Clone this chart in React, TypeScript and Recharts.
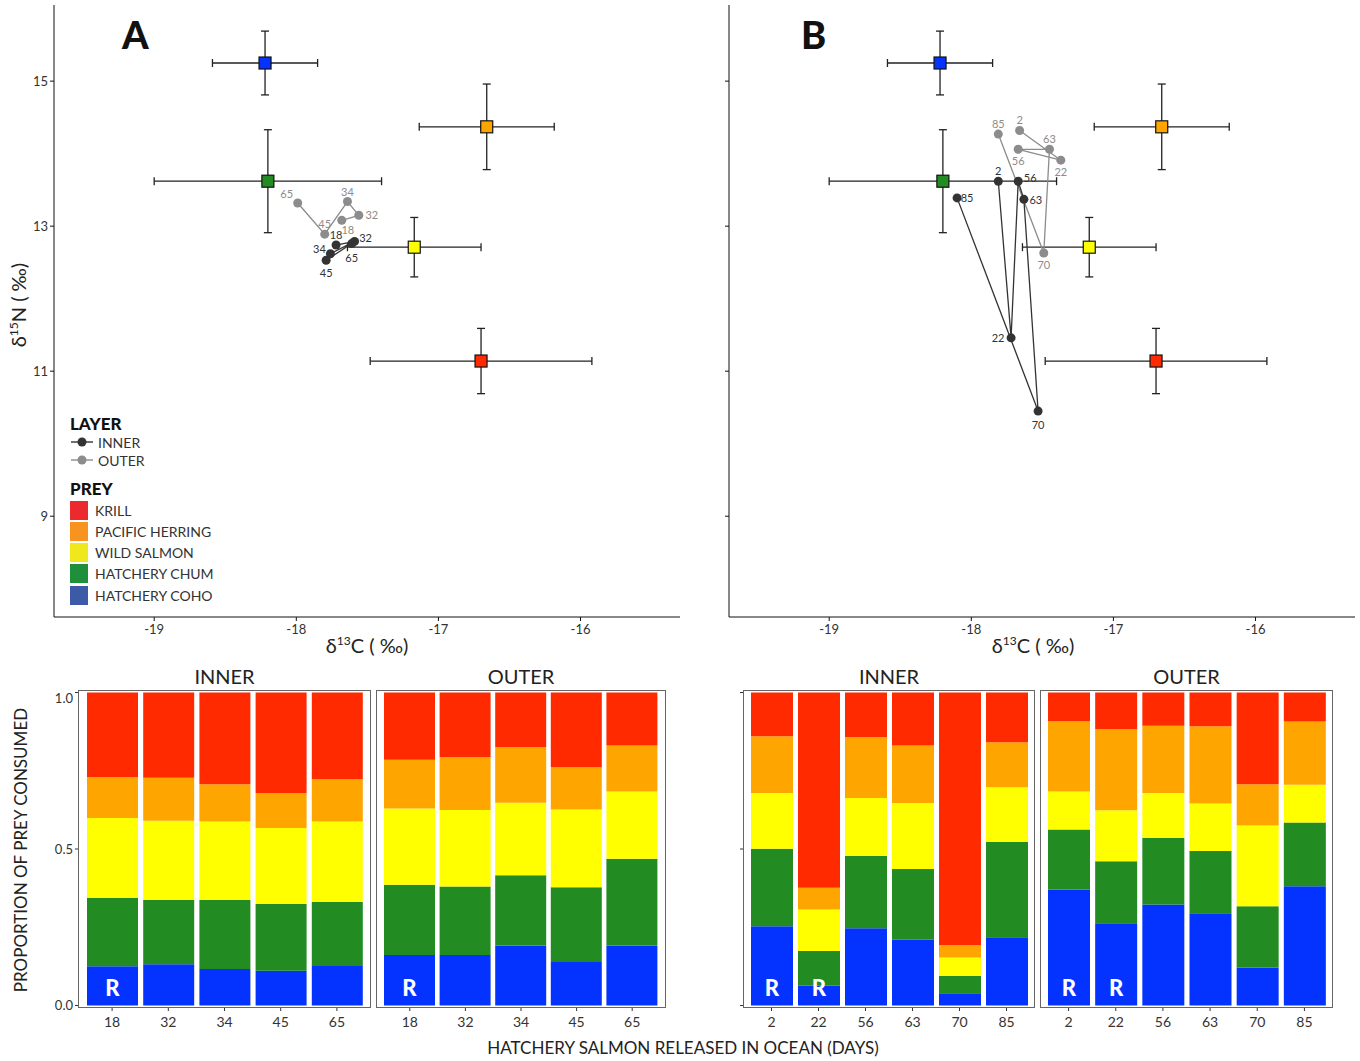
import React from 'react';
import { ScatterChart, Scatter, XAxis, YAxis, ErrorBar, BarChart, Bar, LabelList } from 'recharts';

// prey sources (mean ± sd)
const PREY = ['KRILL', 'PACIFIC HERRING', 'WILD SALMON', 'HATCHERY CHUM', 'HATCHERY COHO'];
const PREY_D13C = [-16.70, -16.66, -17.17, -18.20, -18.22];
const PREY_D15N = [11.14, 14.37, 12.71, 13.62, 15.25];
const PREY_SD_C = [0.78, 0.475, 0.47, 0.8, 0.37];
const PREY_SD_N = [0.45, 0.59, 0.41, 0.71, 0.44];

// consumers, panel A
const DAYS_A = [18, 32, 34, 45, 65];
const A_INNER_C = [-17.72, -17.59, -17.76, -17.79, -17.61];
const A_INNER_N = [12.74, 12.79, 12.62, 12.53, 12.76];
const A_OUTER_C = [-17.68, -17.56, -17.64, -17.80, -17.99];
const A_OUTER_N = [13.08, 13.15, 13.34, 12.89, 13.32];

// consumers, panel B
const DAYS_B = [2, 22, 56, 63, 70, 85];
const B_INNER_C = [-17.81, -17.72, -17.67, -17.63, -17.53, -18.10];
const B_INNER_N = [13.62, 11.46, 13.62, 13.37, 10.45, 13.39];
const B_OUTER_C = [-17.66, -17.37, -17.67, -17.45, -17.49, -17.81];
const B_OUTER_N = [14.32, 13.91, 14.06, 14.06, 12.63, 14.27];

// mixing model proportions
const A_INNER_COHO = [0.125, 0.132, 0.117, 0.111, 0.126];
const A_INNER_CHUM = [0.219, 0.206, 0.221, 0.213, 0.205];
const A_INNER_WILD = [0.255, 0.252, 0.250, 0.243, 0.257];
const A_INNER_HERR = [0.131, 0.138, 0.119, 0.112, 0.135];
const A_INNER_KRILL = [0.270, 0.272, 0.293, 0.321, 0.277];

const A_OUTER_COHO = [0.161, 0.161, 0.192, 0.139, 0.192];
const A_OUTER_CHUM = [0.225, 0.219, 0.224, 0.239, 0.277];
const A_OUTER_WILD = [0.243, 0.245, 0.232, 0.248, 0.215];
const A_OUTER_HERR = [0.156, 0.169, 0.178, 0.135, 0.147];
const A_OUTER_KRILL = [0.215, 0.206, 0.174, 0.239, 0.169];

const B_INNER_COHO = [0.253, 0.063, 0.247, 0.210, 0.039, 0.218];
const B_INNER_CHUM = [0.248, 0.111, 0.231, 0.226, 0.055, 0.304];
const B_INNER_WILD = [0.178, 0.133, 0.185, 0.211, 0.059, 0.175];
const B_INNER_HERR = [0.181, 0.069, 0.195, 0.184, 0.040, 0.144];
const B_INNER_KRILL = [0.140, 0.624, 0.142, 0.169, 0.807, 0.159];

const B_OUTER_COHO = [0.371, 0.263, 0.323, 0.295, 0.121, 0.381];
const B_OUTER_CHUM = [0.191, 0.198, 0.213, 0.199, 0.196, 0.204];
const B_OUTER_WILD = [0.122, 0.163, 0.143, 0.151, 0.258, 0.120];
const B_OUTER_HERR = [0.224, 0.259, 0.215, 0.247, 0.132, 0.202];
const B_OUTER_KRILL = [0.092, 0.117, 0.106, 0.108, 0.293, 0.093];

const R_A_INNER = [18];
const R_A_OUTER = [18];
const R_B_INNER = [2, 22];
const R_B_OUTER = [2, 22];

const FONT = 'Lato, "Open Sans", sans-serif';
const MARK = ['#ff2a00', '#ffa500', '#ffff00', '#228b22', '#0433ff'];
const KEY = ['#ec2a2d', '#f7931e', '#efe81d', '#1f8f3c', '#3d5aa9'];
const DARK = '#333333';
const GREY = '#8c8c8c';
const X_DOMAIN = [-19.705, -15.3];

// label offsets [dx, dy] for the day numbers
const A_INNER_LAB = [[0, -11], [11, -4], [-11, -5], [0, 12], [0, 14]];
const A_OUTER_LAB = [[6, 9], [13, -1], [0, -10], [0, -11], [-11, -9]];
const B_INNER_LAB = [[0, -11], [-13, 0], [12, -4], [12, 0], [0, 13], [10, 0]];
const B_OUTER_LAB = [[0, -11], [0, 11], [0, 11], [0, -11], [0, 12], [0, -11]];

const preyData = PREY.map((name, i) => ({ name, x: PREY_D13C[i], y: PREY_D15N[i], ex: PREY_SD_C[i], ey: PREY_SD_N[i] }));

const squareShape = (p: any) => {
  const c = MARK[PREY.indexOf(p.payload.name)];
  return <rect x={p.cx - 6} y={p.cy - 6} width={12} height={12} fill={c} stroke="#111" strokeWidth={1.2} />;
};

const dotShape = (color: string, days: number[], offs: number[][]) => (p: any) => {
  const i = days.indexOf(p.payload.day);
  const o = offs[i] || [0, -10];
  return (
    <g>
      <circle cx={p.cx} cy={p.cy} r={4.5} fill={color} />
      <text x={p.cx + o[0]} y={p.cy + o[1]} textAnchor="middle" dominantBaseline="central" fontSize={11} fill={color} fontFamily={FONT}>
        {p.payload.day}
      </text>
    </g>
  );
};

function IsoPanel(props: any) {
  const { left, days, innerC, innerN, outerC, outerN, innerLab, outerLab, yLabels } = props;
  const inner = days.map((d: number, i: number) => ({ day: d, x: innerC[i], y: innerN[i] }));
  const outer = days.map((d: number, i: number) => ({ day: d, x: outerC[i], y: outerN[i] }));
  return (
    <div style={{ position: 'absolute', left, top: 0 }}>
      <ScatterChart width={700} height={650} margin={{ top: 5, right: 20, left: 0, bottom: 0 }}>
        <XAxis type="number" dataKey="x" domain={X_DOMAIN} allowDataOverflow ticks={[-19, -18, -17, -16]} height={33}
          stroke="#111" tickSize={4} tickMargin={4} tick={{ fill: DARK, fontSize: 13, fontFamily: FONT }} />
        <YAxis type="number" dataKey="y" domain={[7.61, 16.05]} allowDataOverflow ticks={[9, 11, 13, 15]} width={54}
          stroke="#111" tickSize={4} tick={{ fill: DARK, fontSize: 13, fontFamily: FONT }}
          tickFormatter={(v: number) => (yLabels ? String(v) : '')} />
        <Scatter data={preyData} shape={squareShape} isAnimationActive={false}>
          <ErrorBar dataKey="ex" direction="x" width={4} stroke="#222" strokeWidth={1.3} />
          <ErrorBar dataKey="ey" direction="y" width={4} stroke="#222" strokeWidth={1.3} />
        </Scatter>
        <Scatter data={outer} line={{ stroke: GREY, strokeWidth: 1.3 }} shape={dotShape(GREY, days, outerLab)} isAnimationActive={false} />
        <Scatter data={inner} line={{ stroke: DARK, strokeWidth: 1.3 }} shape={dotShape(DARK, days, innerLab)} isAnimationActive={false} />
      </ScatterChart>
    </div>
  );
}

function LegendBox() {
  const row = { position: 'absolute' as const, left: 0, fontSize: 14, color: DARK, display: 'flex', alignItems: 'center', height: 20, whiteSpace: 'nowrap' as const };
  return (
    <div style={{ position: 'absolute', left: 70, top: 413, width: 220, height: 200, fontFamily: FONT }}>
      <div style={{ position: 'absolute', left: 0, top: 0, fontSize: 17, fontWeight: 900, color: '#111' }}>LAYER</div>
      {[['INNER', DARK], ['OUTER', GREY]].map(([t, c], i) => (
        <div key={t} style={{ ...row, top: 19 + i * 18 }}>
          <svg width={24} height={12}><line x1={1} y1={6} x2={23} y2={6} stroke={c} strokeWidth={1.4} /><circle cx={12} cy={6} r={4.5} fill={c} /></svg>
          <span style={{ marginLeft: 4 }}>{t}</span>
        </div>
      ))}
      <div style={{ position: 'absolute', left: 0, top: 65, fontSize: 17, fontWeight: 900, color: '#111' }}>PREY</div>
      {PREY.map((t, i) => (
        <div key={t} style={{ ...row, top: 87 + i * 21.3 }}>
          <div style={{ width: 18, height: 19, background: KEY[i] }} />
          <span style={{ marginLeft: 7 }}>{t}</span>
        </div>
      ))}
    </div>
  );
}

function PropPanel(props: any) {
  const { left, width, yw, yLabels, days, coho, chum, wild, herr, krill, rDays, pad, barSize, title } = props;
  const data = days.map((d: number, i: number) => ({ day: String(d), coho: coho[i], chum: chum[i], wild: wild[i], herr: herr[i], krill: krill[i] }));
  const rLabel = (p: any) => {
    if (!rDays.includes(Number(p.value))) return null;
    return (
      <text x={p.x + p.width / 2} y={p.y + p.height - 9} textAnchor="middle" fill="#fff" fontSize={22} fontWeight={900} fontFamily={FONT}>R</text>
    );
  };
  const plotLeft = left + yw;
  const plotW = width - yw;
  return (
    <>
      <div style={{ position: 'absolute', left: plotLeft, top: 664, width: plotW, textAlign: 'center', fontSize: 20, color: '#222', fontFamily: FONT }}>{title}</div>
      <div style={{ position: 'absolute', left, top: 690 }}>
        <BarChart width={width} height={348} data={data} margin={{ top: 0, right: 0, left: 0, bottom: 0 }} barCategoryGap={0}>
          <XAxis dataKey="day" axisLine={false} tickSize={3} tickMargin={6} stroke="#333" padding={{ left: pad, right: pad }} height={30}
            tick={{ fill: DARK, fontSize: 14, fontFamily: FONT }} interval={0} />
          <YAxis type="number" domain={[-0.008, 1.008]} allowDataOverflow ticks={[0, 0.5, 1]} width={yw} hide={yw === 0}
            axisLine={false} tickSize={3} stroke="#333" tick={{ fill: DARK, fontSize: 13, fontFamily: FONT }}
            tickFormatter={(v: number) => (yLabels ? v.toFixed(1) : '')} />
          <Bar dataKey="coho" stackId="s" fill={MARK[4]} barSize={barSize} isAnimationActive={false}>
            <LabelList dataKey="day" content={rLabel} />
          </Bar>
          <Bar dataKey="chum" stackId="s" fill={MARK[3]} barSize={barSize} isAnimationActive={false} />
          <Bar dataKey="wild" stackId="s" fill={MARK[2]} barSize={barSize} isAnimationActive={false} />
          <Bar dataKey="herr" stackId="s" fill={MARK[1]} barSize={barSize} isAnimationActive={false} />
          <Bar dataKey="krill" stackId="s" fill={MARK[0]} barSize={barSize} isAnimationActive={false} />
        </BarChart>
      </div>
      <div style={{ position: 'absolute', left: plotLeft, top: 690, width: plotW, height: 318, border: '1.2px solid #666', boxSizing: 'border-box', pointerEvents: 'none' }} />
    </>
  );
}

const Iso = ({ n }: { n: string }) => (
  <span>δ<sup style={{ fontSize: '0.6em', verticalAlign: '0.7em', lineHeight: 0 }}>{n}</sup>{n === '13' ? 'C' : 'N'} ( ‰)</span>
);

export default function App() {
  return (
    <div style={{ position: 'absolute', left: 0, top: 0, width: 1360, height: 1061, background: '#fff', fontFamily: FONT, overflow: 'hidden' }}>
      <IsoPanel left={0} days={DAYS_A} innerC={A_INNER_C} innerN={A_INNER_N} outerC={A_OUTER_C} outerN={A_OUTER_N}
        innerLab={A_INNER_LAB} outerLab={A_OUTER_LAB} yLabels />
      <IsoPanel left={675} days={DAYS_B} innerC={B_INNER_C} innerN={B_INNER_N} outerC={B_OUTER_C} outerN={B_OUTER_N}
        innerLab={B_INNER_LAB} outerLab={B_OUTER_LAB} yLabels={false} />
      <LegendBox />
      <div style={{ position: 'absolute', left: 122, top: 11, fontSize: 38, fontWeight: 900, color: '#111' }}>A</div>
      <div style={{ position: 'absolute', left: 801, top: 11, fontSize: 38, fontWeight: 900, color: '#111' }}>B</div>
      <div style={{ position: 'absolute', left: 267, top: 633, width: 200, textAlign: 'center', fontSize: 20, color: '#222' }}><Iso n="13" /></div>
      <div style={{ position: 'absolute', left: 933, top: 633, width: 200, textAlign: 'center', fontSize: 20, color: '#222' }}><Iso n="13" /></div>
      <div style={{ position: 'absolute', left: 18, top: 305, width: 200, textAlign: 'center', fontSize: 20, color: '#222', transform: 'translate(-50%, -50%) rotate(-90deg)' }}><Iso n="15" /></div>

      <PropPanel left={38} width={333} yw={40} yLabels title="INNER" days={DAYS_A} coho={A_INNER_COHO} chum={A_INNER_CHUM}
        wild={A_INNER_WILD} herr={A_INNER_HERR} krill={A_INNER_KRILL} rDays={R_A_INNER} pad={6} barSize={51} />
      <PropPanel left={376} width={290} yw={0} yLabels={false} title="OUTER" days={DAYS_A} coho={A_OUTER_COHO} chum={A_OUTER_CHUM}
        wild={A_OUTER_WILD} herr={A_OUTER_HERR} krill={A_OUTER_KRILL} rDays={R_A_OUTER} pad={6} barSize={51} />
      <PropPanel left={733} width={302} yw={10} yLabels={false} title="INNER" days={DAYS_B} coho={B_INNER_COHO} chum={B_INNER_CHUM}
        wild={B_INNER_WILD} herr={B_INNER_HERR} krill={B_INNER_KRILL} rDays={R_B_INNER} pad={5} barSize={42} />
      <PropPanel left={1040} width={293} yw={0} yLabels={false} title="OUTER" days={DAYS_B} coho={B_OUTER_COHO} chum={B_OUTER_CHUM}
        wild={B_OUTER_WILD} herr={B_OUTER_HERR} krill={B_OUTER_KRILL} rDays={R_B_OUTER} pad={5} barSize={42} />

      <div style={{ position: 'absolute', left: 383, top: 1037, width: 600, textAlign: 'center', fontSize: 17, color: '#222' }}>HATCHERY SALMON RELEASED IN OCEAN (DAYS)</div>
      <div style={{ position: 'absolute', left: 20, top: 850, width: 400, textAlign: 'center', fontSize: 17, color: '#222', transform: 'translate(-50%, -50%) rotate(-90deg)' }}>PROPORTION OF PREY CONSUMED</div>
    </div>
  );
}
